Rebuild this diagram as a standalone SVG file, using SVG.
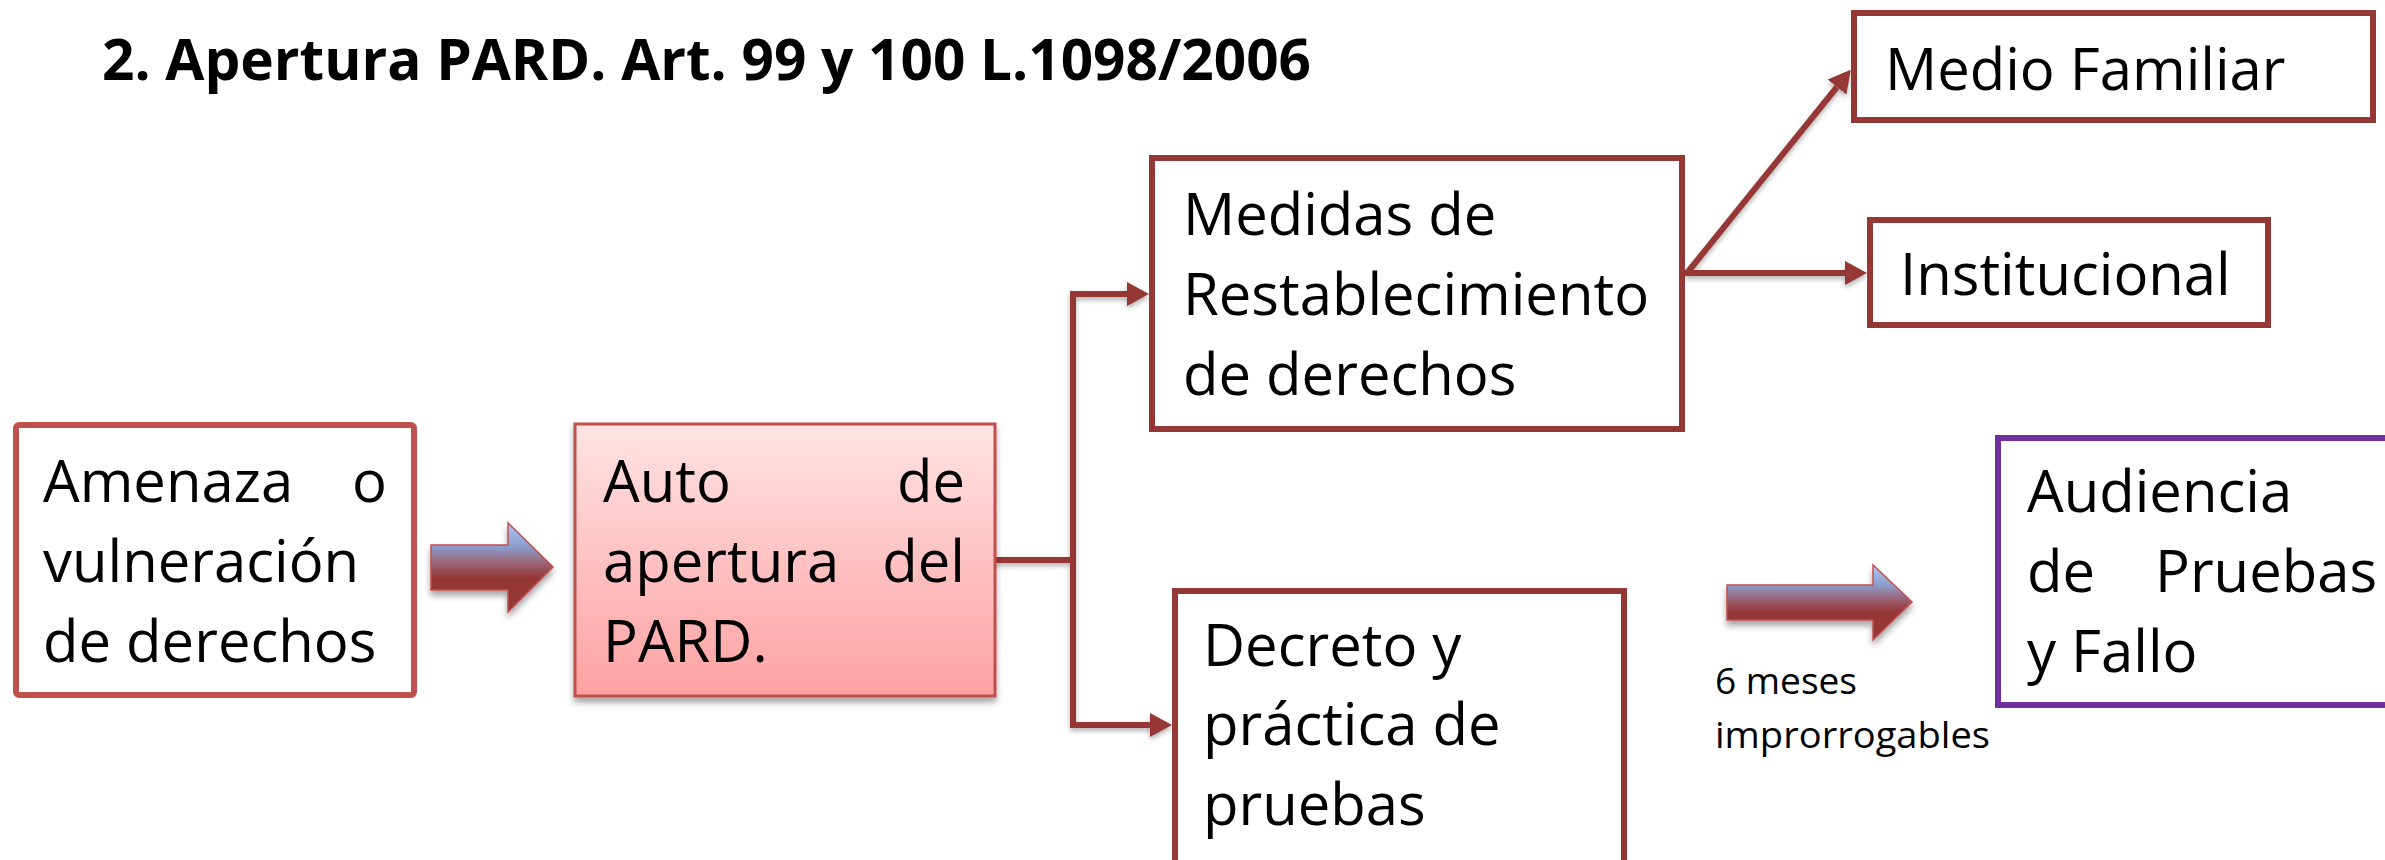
<svg xmlns="http://www.w3.org/2000/svg" width="2385" height="860" viewBox="0 0 2385 860">
  <defs>
    <style>
      .t { font-family: "Open Sans", "Noto Sans", "DejaVu Sans", sans-serif; font-size: 58px; fill: #000; }
      .title { font-family: "Open Sans", "Noto Sans", "DejaVu Sans", sans-serif; font-size: 57px; font-weight: bold; fill: #000; }
      .small { font-family: "Open Sans", "Noto Sans", "DejaVu Sans", sans-serif; font-size: 36px; fill: #000; }
      .box { fill: #fff; stroke: #953735; stroke-width: 6; }
      .conn { fill: none; stroke: #953735; stroke-width: 6; }
    </style>
    <linearGradient id="pink" x1="0" y1="0" x2="0" y2="1">
      <stop offset="0" stop-color="#FFE3E3"/>
      <stop offset="1" stop-color="#FFA1A1"/>
    </linearGradient>
    <linearGradient id="arrowGrad" x1="0" y1="0" x2="0" y2="1">
      <stop offset="0" stop-color="#A6CBF5"/>
      <stop offset="0.27" stop-color="#8C9CCB"/>
      <stop offset="0.45" stop-color="#9A6478"/>
      <stop offset="0.62" stop-color="#953735"/>
      <stop offset="1" stop-color="#953735"/>
    </linearGradient>
    <filter id="shadow" x="-10%" y="-10%" width="120%" height="130%">
      <feDropShadow dx="0" dy="5" stdDeviation="3" flood-color="#000" flood-opacity="0.35"/>
    </filter>
    <filter id="lshadow" x="-10%" y="-10%" width="120%" height="130%">
      <feDropShadow dx="0" dy="3" stdDeviation="2.5" flood-color="#000" flood-opacity="0.3"/>
    </filter>
    <marker id="ah" markerUnits="userSpaceOnUse" markerWidth="24" markerHeight="26" refX="0" refY="13" orient="auto">
      <path d="M0,1 L22,13 L0,25 z" fill="#953735"/>
    </marker>
  </defs>

  <rect x="0" y="0" width="2385" height="860" fill="#fff"/>

  <text id="title" class="title" x="102" y="80" textLength="1209" lengthAdjust="spacingAndGlyphs">2. Apertura PARD. Art. 99 y 100 L.1098/2006</text>

  <g id="connectors" filter="url(#lshadow)">
    <path class="conn" d="M995,560 H1076"/>
    <path class="conn" d="M1073,563 V294 H1127" marker-end="url(#ah)"/>
    <path class="conn" d="M1073,557 V725 H1150" marker-end="url(#ah)"/>
    <path class="conn" d="M1687,273 L1837,87" marker-end="url(#ah)"/>
    <path class="conn" d="M1685,273 H1845" marker-end="url(#ah)"/>
  </g>

  <g id="arrow1" filter="url(#shadow)">
    <polygon points="431,545 508,545 508,523 553,567 508,612 508,590 431,590" fill="url(#arrowGrad)" stroke="#C0504D" stroke-width="1.5"/>
  </g>
  <g id="arrow2" filter="url(#shadow)">
    <polygon points="1727,585 1873,585 1873,565 1912,602 1873,640 1873,620 1727,620" fill="url(#arrowGrad)" stroke="#C0504D" stroke-width="1.5"/>
  </g>

  <g id="node-amenaza">
    <rect x="16" y="425" width="398" height="270" rx="3" fill="#fff" stroke="#C0504D" stroke-width="6"/>
    <text class="t" x="43" y="502">Amenaza</text>
    <text class="t" x="387" y="502" text-anchor="end">o</text>
    <text class="t" x="43" y="582">vulneración</text>
    <text class="t" x="43" y="662">de derechos</text>
  </g>

  <g id="node-auto">
    <rect x="575" y="424" width="420" height="272" fill="url(#pink)" stroke="#C0504D" stroke-width="3" filter="url(#shadow)"/>
    <text class="t" x="603" y="502">Auto</text>
    <text class="t" x="965" y="502" text-anchor="end">de</text>
    <text class="t" x="603" y="582">apertura</text>
    <text class="t" x="965" y="582" text-anchor="end">del</text>
    <text class="t" x="603" y="662">PARD.</text>
  </g>

  <g id="node-medidas">
    <rect class="box" x="1152" y="158" width="530" height="271"/>
    <text class="t" x="1183" y="235">Medidas de</text>
    <text class="t" x="1183" y="315">Restablecimiento</text>
    <text class="t" x="1183" y="395">de derechos</text>
  </g>

  <g id="node-medio-familiar">
    <rect class="box" x="1854" y="13" width="519" height="107"/>
    <text class="t" x="1885" y="90">Medio Familiar</text>
  </g>

  <g id="node-institucional">
    <rect class="box" x="1870" y="220" width="398" height="105"/>
    <text class="t" x="1900" y="295">Institucional</text>
  </g>

  <g id="node-decreto">
    <rect class="box" x="1175" y="591" width="449" height="300"/>
    <text class="t" x="1203" y="666">Decreto y</text>
    <text class="t" x="1203" y="745">práctica de</text>
    <text class="t" x="1203" y="825">pruebas</text>
  </g>

  <g id="label-meses">
    <text class="small" x="1715" y="694" textLength="142" lengthAdjust="spacingAndGlyphs">6 meses</text>
    <text class="small" x="1715" y="748" textLength="275" lengthAdjust="spacingAndGlyphs">improrrogables</text>
  </g>

  <g id="node-audiencia">
    <rect x="1998" y="438" width="420" height="267" fill="#fff" stroke="#7030A0" stroke-width="6"/>
    <text class="t" x="2027" y="512">Audiencia</text>
    <text class="t" x="2027" y="592">de</text>
    <text class="t" x="2155" y="592">Pruebas</text>
    <text class="t" x="2027" y="672">y Fallo</text>
  </g>
</svg>
